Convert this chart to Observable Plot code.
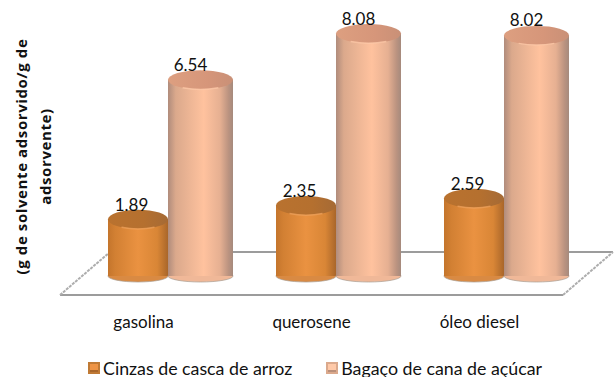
<!DOCTYPE html>
<html>
<head>
<meta charset="utf-8">
<script src="https://cdn.jsdelivr.net/npm/d3@7"></script>
<script src="https://cdn.jsdelivr.net/npm/@observablehq/plot@0.6"></script>
<style>
  html, body { margin: 0; background: #fff; overflow: hidden; }
  #chart svg { display: block; }
  .y-title text { letter-spacing: 0.6px; }
  .legend { display: flex; height: 18px; margin-top: 14px; align-items: center; padding-left: 88px; font: 17.8px Lato, "Open Sans", sans-serif; color: #111; }
  .legend i { width: 12px; height: 12px; display: block; margin-right: 3px; flex: none; }
  .legend span { white-space: nowrap; margin-right: 34px; }
</style>
</head>
<body>
<div id="chart"></div>
<script>
const categories = ["gasolina", "querosene", "óleo diesel"];
const seriesNames = ["Cinzas de casca de arroz", "Bagaço de cana de açúcar"];
const cinzas = [1.89, 2.35, 2.59];
const bagaco = [6.54, 8.08, 8.02];
const yLabel = "(g de solvente adsorvido/g de\nadsorvente)";

const rows = values => categories.map((category, i) => ({category, value: values[i]}));
const svgNS = "http://www.w3.org/2000/svg";
const FONT = "Lato, 'Open Sans', sans-serif";

function node(name, attrs) {
  const el = document.createElementNS(svgNS, name);
  for (const k in attrs) el.setAttribute(k, attrs[k]);
  return el;
}

// Width of one category band, taken from the scale itself.
const bandOf = x => x(categories[1]) - x(categories[0]);

// Shared gradients for the cylinder walls and caps.
function defs() {
  const d = node("defs", {});
  const add = (id, stops) => {
    const g = node("linearGradient", {id, x1: 0, x2: 1, y1: 0, y2: 0});
    stops.forEach(([o, c]) => g.appendChild(node("stop", {offset: o, "stop-color": c})));
    d.appendChild(g);
  };
  add("wallA", [[0, "#c4752c"], [.12, "#d28033"], [.5, "#ea9241"], [.82, "#d98636"], [1, "#a9662a"]]);
  add("wallB", [[0, "#b08c7c"], [.12, "#dba98c"], [.55, "#ffc29e"], [.8, "#e6b092"], [.93, "#bb9380"], [1, "#a58a7d"]]);
  add("capA", [[0, "#b9722f"], [.6, "#b5702f"], [1, "#a56a35"]]);
  add("capB", [[0, "#dd9f80"], [.6, "#d6967a"], [1, "#c99077"]]);
  return d;
}

// The floor plane, anchored to the category band extent and the zero line.
function floor(index, {x, y}) {
  const y0 = y(0), left = x(categories[0]), right = x(categories[2]) + bandOf(x);
  const g = node("g", {fill: "none", "stroke-width": 2});
  const front = y0 + 19, back = y0 - 24;
  const fl = left - 24, fr = right - 25, bl = fl + 50, br = fr + 50;
  g.appendChild(node("path", {d: `M${fl},${front}H${fr}M${bl},${back}H${br}`, stroke: "#9c9c9c"}));
  g.appendChild(node("path", {d: `M${fl},${front}L${bl},${back}M${fr},${front}L${br},${back}`, "stroke-dasharray": "3 1", stroke: "#adadad"}));
  return g;
}

// Elliptical ends of a cylinder: the base below the wall or the cap above it.
function ends(data, {insetLeft, insetRight, fill, rim, ry, cap}) {
  return (index, {x, y}) => {
    const g = node("g", {});
    for (const d of data) {
      const x0 = x(d.category) + insetLeft, x1 = x(d.category) + bandOf(x) - insetRight;
      const cx = (x0 + x1) / 2, rx = (x1 - x0) / 2, cy = y(cap ? d.value : 0);
      const attrs = {cx, cy, rx, ry, fill};
      if (!cap) Object.assign(attrs, {stroke: "#a89c92", "stroke-width": 1, "stroke-opacity": 0.7});
      g.appendChild(node("ellipse", attrs));
      if (cap) g.appendChild(node("path", {
        d: `M${cx - rx * .55},${cy + ry * .84}A${rx},${ry} 0 0 0 ${cx + rx * .55},${cy + ry * .84}`,
        fill: "none", stroke: rim, "stroke-width": 1.5, "stroke-opacity": 0.8
      }));
    }
    return g;
  };
}

const dataA = rows(cinzas), dataB = rows(bagaco);
const insetA = {insetLeft: 24, insetRight: 84};
const insetB = {insetLeft: 84, insetRight: 19};

const cylinder = (data, inset, wall, cap, base, rim) => [
  ends(data, {...inset, fill: base, ry: 6, cap: false}),
  Plot.barY(data, {x: "category", y: "value", fill: `url(#${wall})`, ...inset}),
  ends(data, {...inset, fill: `url(#${cap})`, rim, ry: 9.5, cap: true})
];

const plot = Plot.plot({
  width: 615,
  height: 345,
  marginTop: 6,
  marginBottom: 69,
  marginLeft: 84,
  marginRight: 27,
  style: {background: "#fff", fontFamily: FONT},
  x: {domain: categories, padding: 0, label: null, tickSize: 0, axis: null},
  y: {domain: [0, 9], axis: null},
  marks: [
    () => defs(),
    floor,
    ...cylinder(dataA, insetA, "wallA", "capA", "#d98a43", "#eda05a"),
    ...cylinder(dataB, insetB, "wallB", "capB", "#f0b898", "#fcc8a8"),
    Plot.text(dataA, {x: "category", y: "value", text: d => d.value.toFixed(2), dx: -37, dy: -14, fontSize: 17, fill: "#111"}),
    Plot.text(dataB, {x: "category", y: "value", text: d => d.value.toFixed(2), dx: 22, dy: -15, fontSize: 17, fill: "#111"}),
    Plot.text(categories, {x: d => d, frameAnchor: "bottom", dx: -25, dy: 51, fontSize: 17, fill: "#111"}),
    Plot.text([yLabel], {
      className: "y-title",
      frameAnchor: "top-left", rotate: -90, textAnchor: "middle", lineAnchor: "middle",
      dx: -53, dy: 150, fontSize: 15, fontWeight: "bold", fill: "#111",
      fontFamily: "'Open Sans', sans-serif", lineHeight: 1.55
    })
  ]
});

const root = document.getElementById("chart");
root.appendChild(plot);

// Legend below the plot; each swatch is a small shaded block.
const legend = document.createElement("div");
legend.className = "legend";
const swatches = [
  {background: "#ee9445", boxShadow: "inset 0 0 0 2px #c07a35, inset 0 -2px 0 2px #a9662a"},
  {background: "#ffc9a8", boxShadow: "inset 0 0 0 2px #dba98c, inset 0 -2px 0 2px #b98f7a"}
];
seriesNames.forEach((name, i) => {
  const sw = document.createElement("i");
  Object.assign(sw.style, swatches[i]);
  const label = document.createElement("span");
  label.textContent = name;
  legend.append(sw, label);
});
root.appendChild(legend);
</script>
</body>
</html>
